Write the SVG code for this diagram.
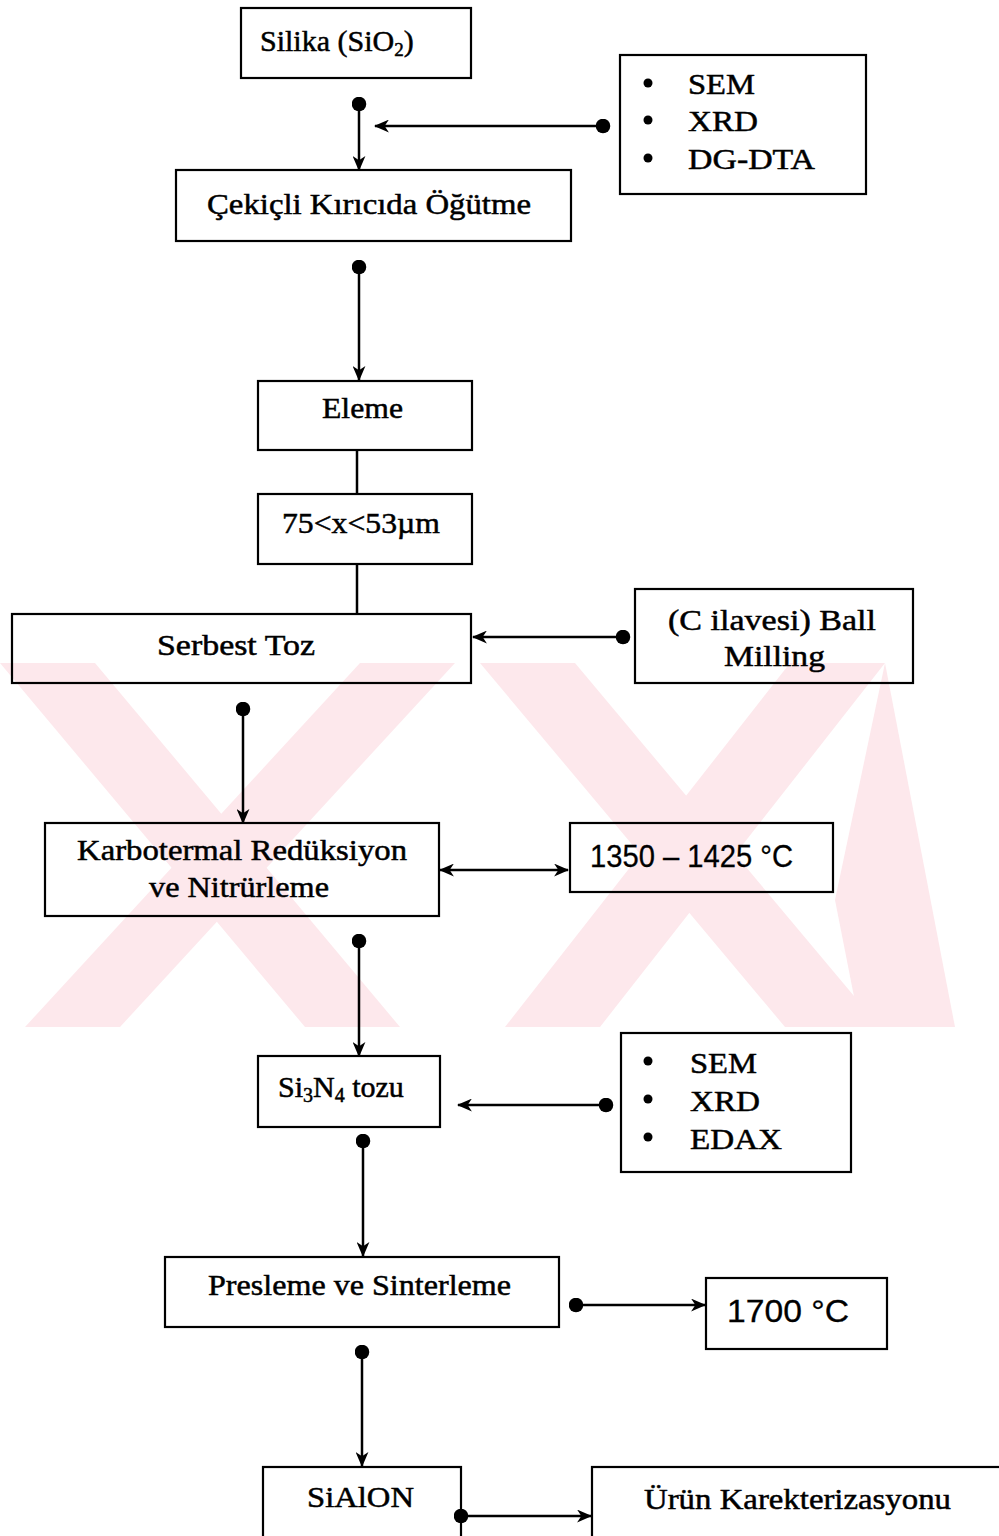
<svg xmlns="http://www.w3.org/2000/svg" width="999" height="1536" viewBox="0 0 999 1536">
<style>
.box{fill:none;stroke:#000;stroke-width:2.2}
.t{font-family:"Liberation Serif","DejaVu Serif",serif;font-size:30px;fill:#000;stroke:#000;stroke-width:0.5}
.s{font-family:"Liberation Sans","DejaVu Sans",sans-serif;font-size:32px;fill:#000;stroke:#000;stroke-width:0.3}
.c{fill:none;stroke:#000;stroke-width:2.5}
.wm{fill:#fde8ec}
</style>
<defs>
<marker id="arr" viewBox="0 0 14 12" refX="13" refY="6" markerWidth="15" markerHeight="13" markerUnits="userSpaceOnUse" orient="auto-start-reverse">
<path d="M0,0 L14,6 L0,12 L4,6 Z" fill="#000"/>
</marker>
<marker id="dot" viewBox="0 0 14 14" refX="7" refY="7" markerWidth="15" markerHeight="15" markerUnits="userSpaceOnUse">
<circle cx="7" cy="7" r="6.8" fill="#000"/>
</marker>
</defs>
<rect width="999" height="1536" fill="#fff"/>
<g id="watermark">
<polygon class="wm" points="0,663 95,663 400,1027 305,1027"/>
<polygon class="wm" points="360,663 455,663 120,1027 25,1027"/>
<polygon class="wm" points="480,663 575,663 880,1027 785,1027"/>
<polygon class="wm" points="790,663 885,663 600,1027 505,1027"/>
<polygon class="wm" points="885,663 955,1027 860,1027 835,900"/>
</g>
<g id="connectors">
<line class="c" x1="359" y1="104" x2="359" y2="170" marker-start="url(#dot)" marker-end="url(#arr)"/>
<line class="c" x1="603" y1="126" x2="375" y2="126" marker-start="url(#dot)" marker-end="url(#arr)"/>
<line class="c" x1="359" y1="267" x2="359" y2="380" marker-start="url(#dot)" marker-end="url(#arr)"/>
<line class="c" x1="357" y1="450" x2="357" y2="494"/>
<line class="c" x1="357" y1="564" x2="357" y2="614"/>
<line class="c" x1="623" y1="637" x2="473" y2="637" marker-start="url(#dot)" marker-end="url(#arr)"/>
<line class="c" x1="243" y1="709" x2="243" y2="823" marker-start="url(#dot)" marker-end="url(#arr)"/>
<line class="c" x1="440" y1="870" x2="568" y2="870" marker-start="url(#arr)" marker-end="url(#arr)"/>
<line class="c" x1="359" y1="941" x2="359" y2="1056" marker-start="url(#dot)" marker-end="url(#arr)"/>
<line class="c" x1="606" y1="1105" x2="458" y2="1105" marker-start="url(#dot)" marker-end="url(#arr)"/>
<line class="c" x1="363" y1="1141" x2="363" y2="1256" marker-start="url(#dot)" marker-end="url(#arr)"/>
<line class="c" x1="576" y1="1305" x2="705" y2="1305" marker-start="url(#dot)" marker-end="url(#arr)"/>
<line class="c" x1="362" y1="1352" x2="362" y2="1466" marker-start="url(#dot)" marker-end="url(#arr)"/>
<line class="c" x1="461" y1="1516" x2="591" y2="1516" marker-start="url(#dot)" marker-end="url(#arr)"/>
</g>
<g id="silika">
<rect class="box" x="241" y="8" width="230" height="70"/>
<text class="t" x="260" y="51" font-size="32">Silika (SiO<tspan font-size="19" dy="5">2</tspan><tspan dy="-5">)</tspan></text>
</g>
<g id="analiz1">
<rect class="box" x="620" y="55" width="246" height="139"/>
<circle cx="648" cy="83" r="4.5"/>
<circle cx="648" cy="120" r="4.5"/>
<circle cx="648" cy="158" r="4.5"/>
<text class="t" x="688" y="94" textLength="67" lengthAdjust="spacingAndGlyphs">SEM</text>
<text class="t" x="688" y="131" textLength="70" lengthAdjust="spacingAndGlyphs">XRD</text>
<text class="t" x="688" y="169" textLength="127" lengthAdjust="spacingAndGlyphs">DG-DTA</text>
</g>
<g id="ogutme">
<rect class="box" x="176" y="170" width="395" height="71"/>
<text class="t" x="207" y="214" textLength="324" lengthAdjust="spacingAndGlyphs">Çekiçli Kırıcıda Öğütme</text>
</g>
<g id="eleme">
<rect class="box" x="258" y="381" width="214" height="69"/>
<text class="t" x="322" y="418" textLength="81" lengthAdjust="spacingAndGlyphs">Eleme</text>
</g>
<g id="boyut">
<rect class="box" x="258" y="494" width="214" height="70"/>
<text class="t" x="282" y="533" textLength="158" lengthAdjust="spacingAndGlyphs">75&lt;x&lt;53µm</text>
</g>
<g id="serbest">
<rect class="box" x="12" y="614" width="459" height="69"/>
<text class="t" x="157" y="655" textLength="158" lengthAdjust="spacingAndGlyphs">Serbest Toz</text>
</g>
<g id="ballmilling">
<rect class="box" x="635" y="589" width="278" height="94"/>
<text class="t" x="668" y="630" textLength="208" lengthAdjust="spacingAndGlyphs">(C ilavesi) Ball</text>
<text class="t" x="724" y="666" textLength="101" lengthAdjust="spacingAndGlyphs">Milling</text>
</g>
<g id="karbotermal">
<rect class="box" x="45" y="823" width="394" height="93"/>
<text class="t" x="77" y="860" textLength="330" lengthAdjust="spacingAndGlyphs">Karbotermal Redüksiyon</text>
<text class="t" x="149" y="897" textLength="180" lengthAdjust="spacingAndGlyphs">ve Nitrürleme</text>
</g>
<g id="sicaklik1">
<rect class="box" x="570" y="823" width="263" height="69"/>
<text class="s" x="590" y="867" textLength="203" lengthAdjust="spacingAndGlyphs">1350 – 1425 °C</text>
</g>
<g id="si3n4">
<rect class="box" x="258" y="1056" width="182" height="71"/>
<text class="t" x="278" y="1097" font-size="33">Si<tspan font-size="20" dy="5">3</tspan><tspan dy="-5">N</tspan><tspan font-size="20" dy="5">4</tspan><tspan dy="-5"> tozu</tspan></text>
</g>
<g id="analiz2">
<rect class="box" x="621" y="1033" width="230" height="139"/>
<circle cx="648" cy="1061" r="4.5"/>
<circle cx="648" cy="1099" r="4.5"/>
<circle cx="648" cy="1137" r="4.5"/>
<text class="t" x="690" y="1073" textLength="67" lengthAdjust="spacingAndGlyphs">SEM</text>
<text class="t" x="690" y="1111" textLength="70" lengthAdjust="spacingAndGlyphs">XRD</text>
<text class="t" x="690" y="1149" textLength="92" lengthAdjust="spacingAndGlyphs">EDAX</text>
</g>
<g id="presleme">
<rect class="box" x="165" y="1257" width="394" height="70"/>
<text class="t" x="208" y="1295" textLength="303" lengthAdjust="spacingAndGlyphs">Presleme ve Sinterleme</text>
</g>
<g id="sicaklik2">
<rect class="box" x="706" y="1278" width="181" height="71"/>
<text class="s" x="727" y="1322" textLength="122" lengthAdjust="spacingAndGlyphs">1700 °C</text>
</g>
<g id="sialon">
<rect class="box" x="263" y="1467" width="198" height="80"/>
<text class="t" x="307" y="1507" textLength="107" lengthAdjust="spacingAndGlyphs">SiAlON</text>
</g>
<g id="urun">
<rect class="box" x="592" y="1467" width="420" height="80"/>
<text class="t" x="644" y="1509" textLength="307" lengthAdjust="spacingAndGlyphs">Ürün Karekterizasyonu</text>
</g>
</svg>
